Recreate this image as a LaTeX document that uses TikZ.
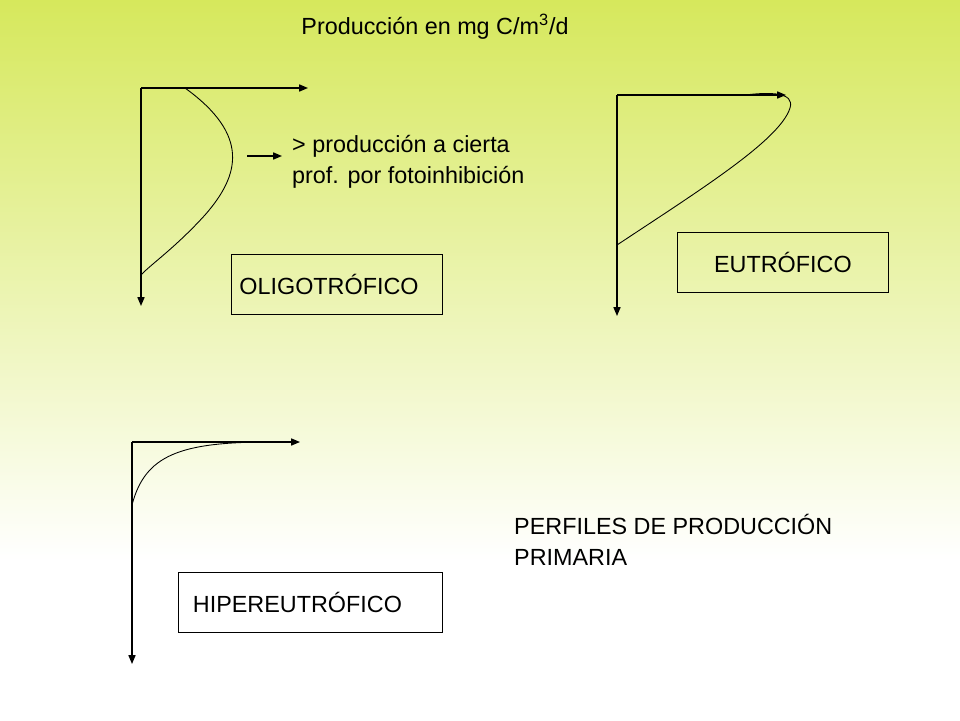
\documentclass[tikz,border=0pt]{standalone}
\usepackage{fontspec}
\setmainfont{Liberation Sans}
\usetikzlibrary{arrows.meta}
\tikzset{
  axis/.style={-{Triangle[length=5pt,width=4pt]}, line width=0.7pt},
  label/.style={draw, line width=0.5pt, minimum width=4.22cm, minimum height=1.2cm, font=\fontsize{13.3}{17.6}\selectfont},
  txt/.style={font=\fontsize{13.3}{17.6}\selectfont, align=left}
}
\begin{document}
\begin{tikzpicture}[x=0.02cm,y=-0.02cm]
  \useasboundingbox (0,0) rectangle (960,720);
  % background
  \shade[top color={rgb,255:red,214;green,232;blue,92}, bottom color=white] (0,0) rectangle (960,560);
  \fill[white] (0,560) rectangle (960,720);

  \node[txt, anchor=center] (title) at (435,27) {Producción en mg C/m\textsuperscript{3}/d};

  % oligotrofico
  \coordinate (O1) at (141,88);
  \draw[axis] (O1) -- (308,88);
  \draw[axis] (O1) -- (141,306);
  \draw[line width=0.5pt] (185,88) .. controls (250,135) and (240,175) .. (205,215) .. controls (175,248) and (150,265) .. (141,275);
  \coordinate (a1) at (247,156);
  \coordinate (a2) at (282,156);
  \draw[axis] (a1) -- (a2);
  \node[txt, anchor=west] (nota) at (286,162) {> producción a cierta\\prof. por fotoinhibición};
  \node[label, anchor=north west, text width=3.9cm] (oligo) at (231,254) {OLIGOTRÓFICO};

  % eutrofico
  \coordinate (O2) at (617,95);
  \draw[axis] (O2) -- (786,95);
  \draw[axis] (O2) -- (617,316);
  \draw[line width=0.5pt] (617,245) .. controls (700,190) and (780,140) .. (790,108) .. controls (795,92) and (770,92) .. (745,95);
  \node[label, anchor=north west, text width=3.6cm, align=center] (eutro) at (677,232) {EUTRÓFICO};

  % hipereutrofico
  \coordinate (O3) at (132,442);
  \draw[axis] (O3) -- (300,442);
  \draw[axis] (O3) -- (132,664);
  \draw[line width=0.5pt] (132,505) .. controls (145,455) and (180,442) .. (270,442);
  \node[label, anchor=north west, minimum width=5.28cm, text width=4.7cm] (hiper) at (178,572) {HIPEREUTRÓFICO};

  \node[txt, anchor=north west] (perfiles) at (508,508) {PERFILES DE PRODUCCIÓN\\PRIMARIA};
\end{tikzpicture}
\end{document}
